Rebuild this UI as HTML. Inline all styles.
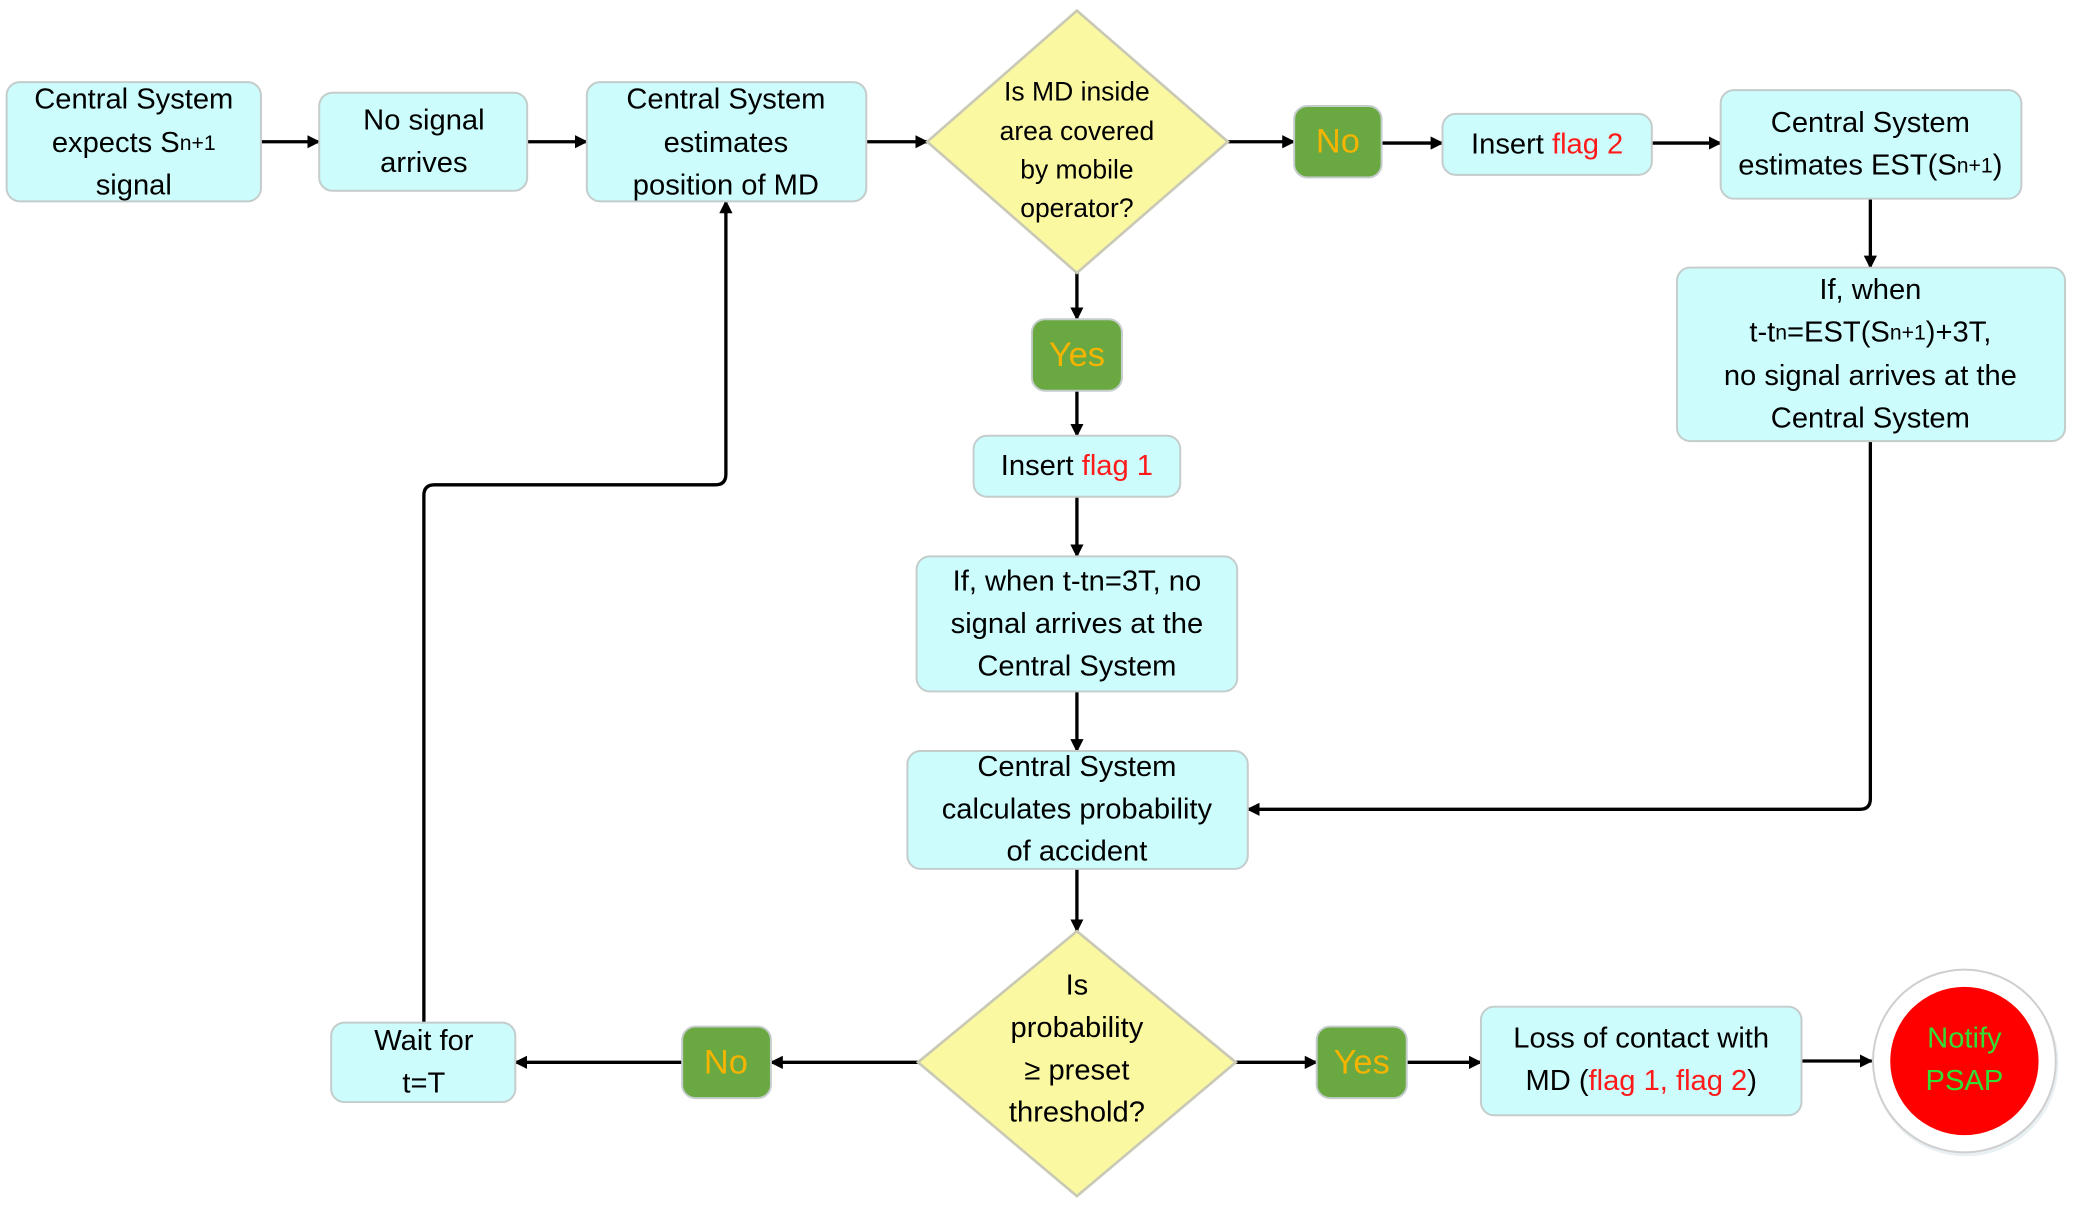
<!DOCTYPE html>
<html><head><meta charset="utf-8"><style>
html,body{margin:0;padding:0;background:#fff;}
svg{display:block;}
text{font-family:"Liberation Sans",sans-serif;text-anchor:middle;dominant-baseline:central;}
.b{fill:#ccfcfc;stroke:#c4cccc;stroke-width:1.5;}
.g{fill:#6aa842;stroke:#c4cccc;stroke-width:1.5;}
.d{fill:#fbf8a2;stroke:#c9c9b5;stroke-width:2;}
.t{font-size:22px;fill:#000;}
.s{font-size:20px;fill:#000;}
.y{font-size:26px;fill:#f5b400;}
.r{fill:#ff1a1a;}
.l{stroke:#000;stroke-width:2.5;fill:none;}
</style></head><body>
<svg width="2077" height="1212" viewBox="0 0 1568 915" preserveAspectRatio="none" xmlns="http://www.w3.org/2000/svg">
<defs><marker id="a" markerWidth="10" markerHeight="10" refX="9" refY="5" orient="auto" markerUnits="userSpaceOnUse"><path d="M0,0 L10,5 L0,10 z" fill="#000"/></marker></defs>

<!-- connectors -->
<g class="l" marker-end="url(#a)">
<line x1="197" y1="107" x2="241" y2="107"/>
<line x1="398" y1="107" x2="443" y2="107"/>
<line x1="654" y1="107" x2="700" y2="107"/>
<line x1="927" y1="107" x2="977" y2="107"/>
<line x1="1043" y1="108" x2="1089" y2="108"/>
<line x1="1247" y1="108" x2="1299" y2="108"/>
<line x1="1412" y1="150" x2="1412" y2="202"/>
<line x1="813" y1="206" x2="813" y2="241"/>
<line x1="813" y1="295" x2="813" y2="329"/>
<line x1="813" y1="375" x2="813" y2="420"/>
<line x1="813" y1="522" x2="813" y2="567"/>
<line x1="813" y1="656" x2="813" y2="703"/>
<path d="M1412,333 L1412,603 Q1412,611 1404,611 L942,611"/>
<line x1="693" y1="802" x2="582" y2="802"/>
<line x1="515" y1="802" x2="389" y2="802"/>
<path d="M320,772 L320,374 Q320,366 328,366 L540,366 Q548,366 548,358 L548,152"/>
<line x1="933" y1="802" x2="994" y2="802"/>
<line x1="1062" y1="802" x2="1118" y2="802"/>
<line x1="1360" y1="801" x2="1413" y2="801"/>
</g>

<!-- boxes -->
<rect class="b" x="5" y="62" width="192" height="90" rx="10"/>
<text class="t" x="101" y="75">Central System</text>
<text class="t" x="101" y="108">expects S<tspan font-size="16">n+1</tspan></text>
<text class="t" x="101" y="140">signal</text>

<rect class="b" x="241" y="70" width="157" height="74" rx="10"/>
<text class="t" x="320" y="91">No signal</text>
<text class="t" x="320" y="123">arrives</text>

<rect class="b" x="443" y="62" width="211" height="90" rx="10"/>
<text class="t" x="548" y="75">Central System</text>
<text class="t" x="548" y="108">estimates</text>
<text class="t" x="548" y="140">position of MD</text>

<polygon class="d" points="813,8 927,107 813,206 700,107"/>
<text class="s" x="813" y="69">Is MD inside</text>
<text class="s" x="813" y="99">area covered</text>
<text class="s" x="813" y="128">by mobile</text>
<text class="s" x="813" y="157">operator?</text>

<rect class="g" x="977" y="80" width="66" height="54" rx="10"/>
<text class="y" x="1010" y="107">No</text>

<rect class="b" x="1089" y="86" width="158" height="46" rx="10"/>
<text class="t" x="1168" y="109">Insert <tspan class="r">flag 2</tspan></text>

<rect class="b" x="1299" y="68" width="227" height="82" rx="10"/>
<text class="t" x="1412" y="93">Central System</text>
<text class="t" x="1412" y="125">estimates EST(S<tspan font-size="16">n+1</tspan>)</text>

<rect class="b" x="1266" y="202" width="293" height="131" rx="10"/>
<text class="t" x="1412" y="219">If, when</text>
<text class="t" x="1412" y="251">t-t<tspan font-size="16">n</tspan>=EST(S<tspan font-size="16">n+1</tspan>)+3T,</text>
<text class="t" x="1412" y="284">no signal arrives at the</text>
<text class="t" x="1412" y="316">Central System</text>

<rect class="g" x="779" y="241" width="68" height="54" rx="10"/>
<text class="y" x="813" y="268">Yes</text>

<rect class="b" x="735" y="329" width="156" height="46" rx="10"/>
<text class="t" x="813" y="352">Insert <tspan class="r">flag 1</tspan></text>

<rect class="b" x="692" y="420" width="242" height="102" rx="10"/>
<text class="t" x="813" y="439">If, when t-tn=3T, no</text>
<text class="t" x="813" y="471">signal arrives at the</text>
<text class="t" x="813" y="503">Central System</text>

<rect class="b" x="685" y="567" width="257" height="89" rx="10"/>
<text class="t" x="813" y="579">Central System</text>
<text class="t" x="813" y="611">calculates probability</text>
<text class="t" x="813" y="643">of accident</text>

<polygon class="d" points="813,703 933,802 813,903 693,802"/>
<text class="t" x="813" y="744">Is</text>
<text class="t" x="813" y="776">probability</text>
<text class="t" x="813" y="808">≥ preset</text>
<text class="t" x="813" y="840">threshold?</text>

<rect class="g" x="515" y="775" width="67" height="54" rx="10"/>
<text class="y" x="548" y="802">No</text>

<rect class="b" x="250" y="772" width="139" height="60" rx="10"/>
<text class="t" x="320" y="786">Wait for</text>
<text class="t" x="320" y="818">t=T</text>

<rect class="g" x="994" y="775" width="68" height="54" rx="10"/>
<text class="y" x="1028" y="802">Yes</text>

<rect class="b" x="1118" y="760" width="242" height="82" rx="10"/>
<text class="t" x="1239" y="784">Loss of contact with</text>
<text class="t" x="1239" y="816">MD (<tspan class="r">flag 1, flag 2</tspan>)</text>

<circle cx="1484" cy="803" r="70" fill="#e8f0f4"/>
<circle cx="1483" cy="801" r="69" fill="#fff" stroke="#cfcfcf" stroke-width="1.5"/>
<circle cx="1483" cy="801" r="56" fill="#ff0000"/>
<text class="t" x="1483" y="784" fill="#33dd33" style="fill:#33dd33">Notify</text>
<text class="t" x="1483" y="816" style="fill:#33dd33">PSAP</text>
</svg>
</body></html>
